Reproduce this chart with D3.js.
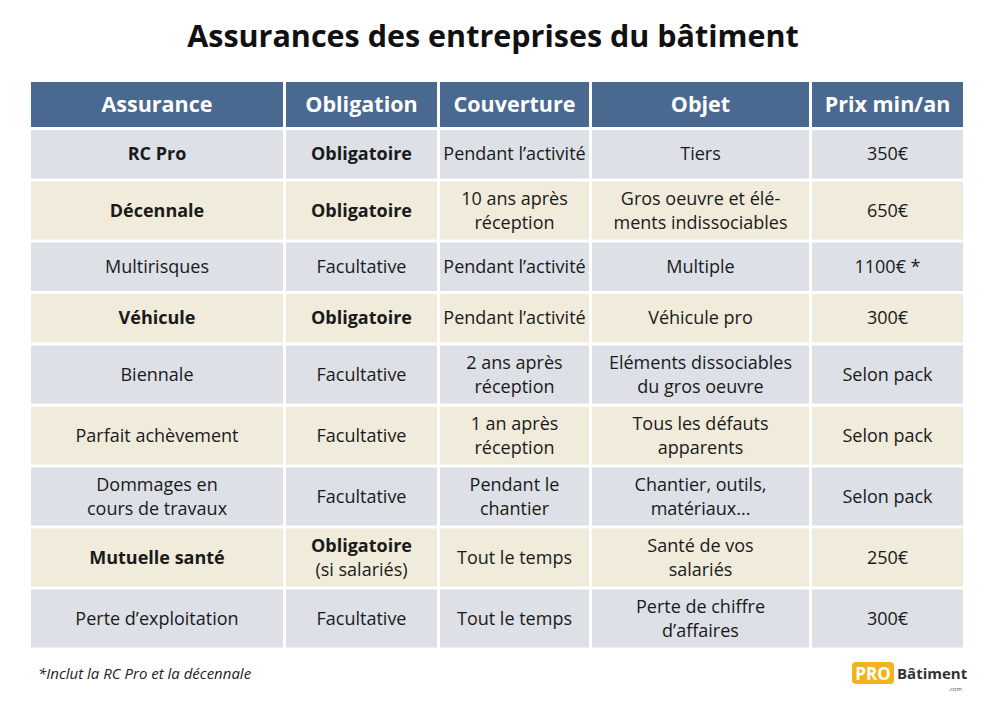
<!DOCTYPE html>
<html><head><meta charset="utf-8">
<script src="https://cdn.jsdelivr.net/npm/d3@7"></script>
<style>body{margin:0;background:#fff;font-family:"Open Sans",sans-serif}</style>
</head><body><svg id="c" width="995" height="720"></svg>
<script>
const title = 'Assurances des entreprises du bâtiment';
const headers = ['Assurance', 'Obligation', 'Couverture', 'Objet', 'Prix min/an'];
const assurances = [['RC Pro'], ['Décennale'], ['Multirisques'], ['Véhicule'], ['Biennale'], ['Parfait achèvement'], ['Dommages en', 'cours de travaux'], ['Mutuelle santé'], ['Perte d’exploitation']];
const assuranceBold = [true, true, false, true, false, false, false, true, false];
const obligations = [['Obligatoire'], ['Obligatoire'], ['Facultative'], ['Obligatoire'], ['Facultative'], ['Facultative'], ['Facultative'], ['Obligatoire', '(si salariés)'], ['Facultative']];
const couvertures = [['Pendant l’activité'], ['10 ans après', 'réception'], ['Pendant l’activité'], ['Pendant l’activité'], ['2 ans après', 'réception'], ['1 an après', 'réception'], ['Pendant le', 'chantier'], ['Tout le temps'], ['Tout le temps']];
const objets = [['Tiers'], ['Gros oeuvre et élé-', 'ments indissociables'], ['Multiple'], ['Véhicule pro'], ['Eléments dissociables', 'du gros oeuvre'], ['Tous les défauts', 'apparents'], ['Chantier, outils,', 'matériaux...'], ['Santé de vos', 'salariés'], ['Perte de chiffre', 'd’affaires']];
const prix = [['350€'], ['650€'], ['1100€ *'], ['300€'], ['Selon pack'], ['Selon pack'], ['Selon pack'], ['250€'], ['300€']];
const footnote = '*Inclut la RC Pro et la décennale';

const svg = d3.select('#c');
const colEdges = [31, 286, 440, 592, 812, 966];
const columns = [assurances, obligations, couvertures, objets, prix];
const nLines = assurances.map((_, i) => d3.max(columns, c => c[i].length));
const rowH = nLines.map(n => n > 1 ? 61 : 51.5);
const rowTop = [130];
rowH.forEach((h, i) => rowTop.push(rowTop[i] + h));
const gap = 3;

svg.append('text').attr('x', 493).attr('y', 47).attr('text-anchor', 'middle')
  .attr('font-size', 30.5).attr('font-weight', 700).attr('fill', '#111').text(title);

headers.forEach((h, j) => {
  const x0 = colEdges[j], x1 = colEdges[j + 1];
  svg.append('rect').attr('x', x0).attr('y', 82).attr('width', x1 - x0 - gap).attr('height', 48 - gap).attr('fill', '#4a6990');
  svg.append('text').attr('x', (x0 + x1 - gap) / 2).attr('y', 112).attr('text-anchor', 'middle')
    .attr('font-size', 21.5).attr('font-weight', 700).attr('fill', '#fff').text(h);
});

const rowColors = ['#dde0e7', '#f0ebdb'];
assurances.forEach((_, i) => {
  const y0 = rowTop[i], h = rowH[i];
  columns.forEach((col, j) => {
    const x0 = colEdges[j], x1 = colEdges[j + 1];
    svg.append('rect').attr('x', x0).attr('y', y0).attr('width', x1 - x0 - gap).attr('height', h - gap).attr('fill', rowColors[i % 2]);
    const lines = col[i];
    const bold = (j === 0 && assuranceBold[i]) || (j === 1 && lines[0] === 'Obligatoire');
    const cy = y0 + (h - gap) / 2;
    lines.forEach((t, k) => {
      const ly = cy + (k - (lines.length - 1) / 2) * 24 + 6;
      svg.append('text').attr('x', (x0 + x1 - gap) / 2).attr('y', ly).attr('text-anchor', 'middle')
        .attr('font-size', 18).attr('font-weight', bold && k === 0 ? 700 : 400).attr('fill', '#1a1a1a').text(t);
    });
  });
});

svg.append('text').attr('x', 38).attr('y', 679).attr('font-size', 15).attr('font-style', 'italic').attr('fill', '#222').text(footnote);

const logo = svg.append('g');
logo.append('rect').attr('x', 852).attr('y', 662).attr('width', 42).attr('height', 22).attr('rx', 4).attr('fill', '#f2b31d');
logo.append('text').attr('x', 873).attr('y', 680).attr('text-anchor', 'middle').attr('font-size', 17).attr('font-weight', 700).attr('fill', '#fff').text('PRO');
logo.append('text').attr('x', 897).attr('y', 679).attr('font-size', 15).attr('font-weight', 700).attr('fill', '#333').text('Bâtiment');
logo.append('text').attr('x', 962).attr('y', 691).attr('text-anchor', 'end').attr('font-size', 6).attr('fill', '#555').text('.com');
</script></body></html>
